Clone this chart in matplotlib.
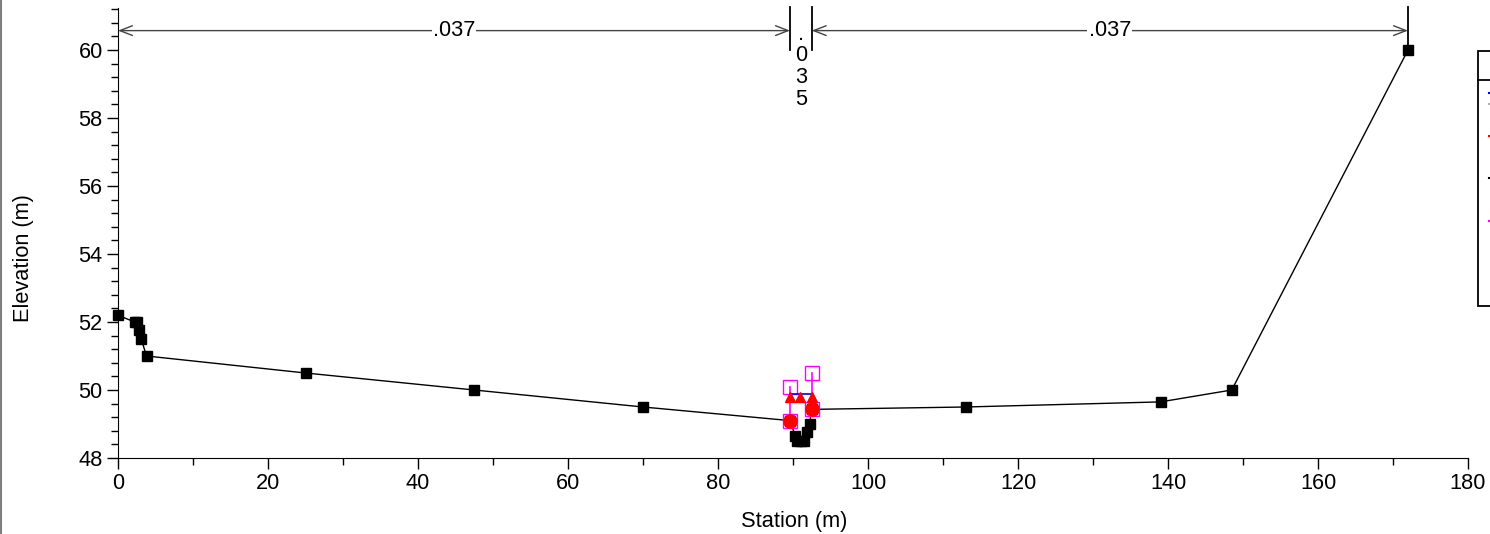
import numpy as np
import matplotlib
matplotlib.use('Agg')
import matplotlib.pyplot as plt
from matplotlib.ticker import MultipleLocator, AutoMinorLocator
from matplotlib.lines import Line2D
from matplotlib.patches import Rectangle

plt.rcParams['font.family'] = ['Liberation Sans', 'DejaVu Sans']

# ground profile
station = [0, 2.2, 2.5, 2.8, 3.1, 3.8, 25, 47.5, 70, 89.6, 90.3, 90.5, 91.0,
           91.5, 91.9, 92.2, 92.5, 113, 139, 148.5, 172]
elev = [52.2, 52.0, 52.0, 51.75, 51.5, 51.0, 50.5, 50.0, 49.5, 49.1, 48.65,
        48.5, 48.5, 48.5, 48.75, 49.0, 49.43, 49.5, 49.65, 50.0, 60.0]

# bank stations
bank_sta = [89.6, 92.5]
bank_elev = [49.1, 49.43]

# water surface / critical depth
ws_sta = [89.6, 92.5]
ws_elev = [49.88, 49.88]
crit_sta = [89.6, 90.9, 92.5]
crit_elev = [49.8, 49.8, 49.8]

# ineffective flow limits
ineff_sta = [89.6, 92.5]
ineff_top = [50.1, 50.5]

# manning's n regions
n_bounds = [0, 89.6, 92.5, 172]
n_vals = ['.037', '.035', '.037']

W, H = 1490, 534
FS = 15.7
fig = plt.figure(figsize=(W / 100, H / 100), dpi=100)
ax = fig.add_axes([118 / W, 1 - 458 / H, 1350 / W, 450 / H])

ax.plot(station, elev, color='black', lw=1.0, marker='s', ms=6.5, zorder=3, clip_on=False)

for s, top, bot in zip(ineff_sta, ineff_top, bank_elev):
    ax.plot([s, s], [top, bot], color='magenta', lw=1.2, marker='s', ms=9.5,
            mfc='none', mec='magenta', mew=1.0, zorder=4)

ax.plot(bank_sta, bank_elev, 'o', color='red', ms=9.5, zorder=5)
ax.plot(ws_sta, ws_elev, color='blue', lw=1.2, zorder=4)
ax.plot(crit_sta, crit_elev, '^', color='red', ms=7, zorder=5)

ax.set_xlim(0, 180)
ax.set_ylim(48, 61.235)

# n-value dimension lines
y_dim = 60.57
for x0, x1, lbl in zip(n_bounds[:-1], n_bounds[1:], n_vals):
    if x1 - x0 > 10:
        ax.annotate('', xy=(x0, y_dim), xytext=(x1, y_dim),
                    arrowprops=dict(arrowstyle='<->,head_length=0.9,head_width=0.35',
                                    color='#444444', lw=1.0, shrinkA=0, shrinkB=0))
        ax.text((x0 + x1) / 2, y_dim, lbl, ha='center', va='center', fontsize=FS,
                bbox=dict(facecolor='white', edgecolor='none', pad=1))
    else:
        ax.text((x0 + x1) / 2, y_dim + 0.2, '\n'.join(lbl), ha='center', va='top',
                fontsize=FS, linespacing=1.04)
for xb in n_bounds[1:]:
    ax.plot([xb, xb], [60.0, 61.26], color='black', lw=1.3, clip_on=False)

ax.spines['top'].set_visible(False)
ax.spines['right'].set_visible(False)
ax.xaxis.set_major_locator(MultipleLocator(20))
ax.xaxis.set_minor_locator(MultipleLocator(10))
ax.yaxis.set_major_locator(MultipleLocator(2))
ax.yaxis.set_minor_locator(AutoMinorLocator(5))
ax.tick_params(which='major', length=8, width=1, labelsize=FS, pad=3)
ax.tick_params(which='minor', length=5, width=1)

fig.text(794 / W, 1 - 521 / H, 'Station (m)', ha='center', va='center', fontsize=FS)
fig.text(23 / W, 1 - 258 / H, 'Elevation (m)', ha='center', va='center',
         rotation=90, fontsize=FS)

# legend box (cut off at the right edge)
fig.add_artist(Rectangle((1478 / W, 1 - 306 / H), 40 / W, 255 / H, transform=fig.transFigure,
                         facecolor='white', edgecolor='black', lw=1.3))
fig.add_artist(Line2D([1478 / W, 1], [1 - 80 / H, 1 - 80 / H], transform=fig.transFigure,
                      color='black', lw=1.3))
leg_colors = ['blue', '#b0b0b0', 'red', 'black', 'magenta']
leg_y = [92.7, 104, 136, 178, 221]
for c, yy in zip(leg_colors, leg_y):
    fig.add_artist(Line2D([1488.5 / W, 1490 / W], [1 - yy / H, 1 - yy / H],
                          transform=fig.transFigure, color=c, lw=1.5))

# left frame edge
fig.add_artist(Line2D([1 / W, 1 / W], [0, 1], transform=fig.transFigure, color='gray', lw=1.5))

fig.savefig('out.png', dpi=100)
